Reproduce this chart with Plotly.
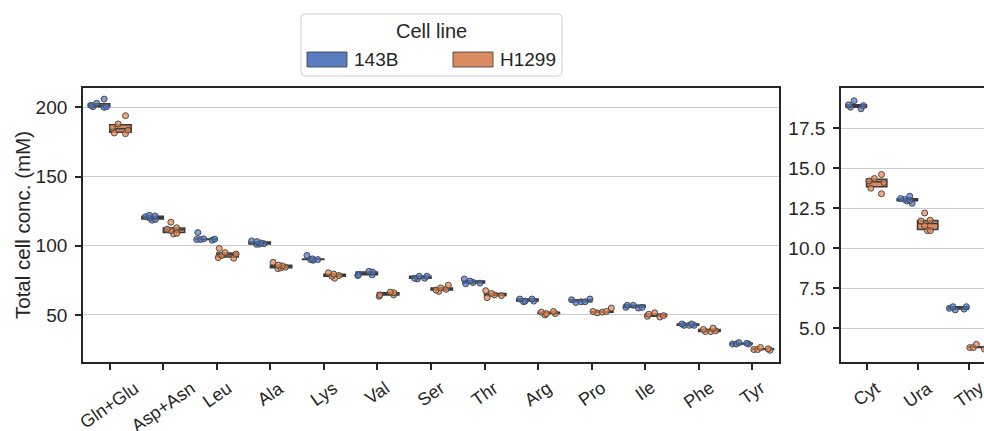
import numpy as np
import plotly.graph_objects as go

# ---------------- data ----------------
aa_names = ['Gln+Glu', 'Asp+Asn', 'Leu', 'Ala', 'Lys', 'Val', 'Ser', 'Thr',
            'Arg', 'Pro', 'Ile', 'Phe', 'Tyr']
aa_143B = [
    [206, 203, 200.5, 200, 200.5, 201.5],
    [122, 121.5, 119, 118.5, 120, 121],
    [109.5, 104.5, 104, 104.5, 105, 104.8],
    [103, 101.5, 101, 101.2, 102, 103.5],
    [93, 90, 89.5, 90, 90.5],
    [81, 79, 78.5, 79, 81.5],
    [78, 76.5, 76, 76.5, 78],
    [76, 74.5, 72.5, 73, 73.5],
    [61.5, 60, 59.5, 60, 61.5],
    [61, 59.5, 59, 59.5, 61.5],
    [57, 55.5, 55, 55.5, 57],
    [43.5, 42.5, 42.5, 42.5, 43.5],
    [30, 29, 29, 29, 29.5],
]
aa_H1299 = [
    [194, 188, 185.5, 183.5, 181, 181.5],
    [117, 113, 111, 109, 108.5, 112],
    [98, 95, 93, 91.5, 91, 94],
    [88, 85.5, 84, 83.5, 84.5, 86],
    [80.5, 78.5, 76.5, 78, 79.5],
    [66.5, 64.5, 63.5, 64.5, 66],
    [71.5, 68.5, 67, 68, 69.5],
    [67.5, 64.5, 62.5, 64, 65.5],
    [52.5, 51, 50, 51, 52],
    [55, 52.5, 51.5, 52, 52.5],
    [51.5, 49.5, 48.5, 49, 50.5],
    [40.5, 38, 38, 38.5, 39.5],
    [26.5, 25, 24.5, 25, 25.5],
]
nb_names = ['Cyt', 'Ura', 'Thy']
nb_143B = [
    [19.2, 18.8, 18.7, 18.9, 18.95],
    [13.25, 13.1, 12.95, 12.8, 13.0, 13.05],
    [6.35, 6.2, 6.15, 6.25, 6.35],
]
nb_H1299 = [
    [14.6, 14.35, 14.2, 13.75, 13.4, 14.1],
    [12.2, 11.7, 11.75, 11.1, 11.1, 11.4],
    [4.0, 3.8, 3.7, 3.8, 3.85],
]
cell_lines = ['143B', 'H1299']
aa_ticks = [50, 100, 150, 200]
nb_ticks = [5.0, 7.5, 10.0, 12.5, 15.0, 17.5]
y_title = 'Total cell conc. (mM)'
legend_title = 'Cell line'

# ---------------- style ----------------
box_fill = ['#597DBF', '#DA8B5F']
point_fill = ['rgba(72,120,208,0.72)', 'rgba(238,133,74,0.72)']
edge = '#3a3a3a'
axcol = '#262626'
FONT = 'Arial, Liberation Sans, sans-serif'
W, H = 984, 431
ML, MR, MT, MB = 83, 0, 88, 69
PW, PH = W - ML - MR, H - MT - MB


def px2x(px):
    return (px - ML) / PW


def px2y(py):
    return (H - MB - py) / PH


fig = go.Figure()


def add_group(names, groups, idx, xa, ya):
    q1 = [float(np.percentile(g, 25)) for g in groups]
    med = [float(np.percentile(g, 50)) for g in groups]
    q3 = [float(np.percentile(g, 75)) for g in groups]
    fig.add_trace(go.Box(
        x=names, y=groups, q1=q1, median=med, q3=q3,
        lowerfence=q1, upperfence=q3,
        xaxis=xa, yaxis=ya, name=cell_lines[idx],
        offsetgroup=cell_lines[idx], legendgroup=cell_lines[idx],
        fillcolor=box_fill[idx], line=dict(color=edge, width=1.5),
        boxpoints='all', jitter=0.9, pointpos=0, whiskerwidth=0,
        marker=dict(color=point_fill[idx], size=6,
                    line=dict(color='#4a4a4a', width=1)),
        showlegend=False))


for i, grp in enumerate([aa_143B, aa_H1299]):
    add_group(aa_names, grp, i, 'x', 'y')
for i, grp in enumerate([nb_143B, nb_H1299]):
    add_group(nb_names, grp, i, 'x2', 'y2')

common_axis = dict(showline=True, linecolor=axcol, linewidth=1.8,
                   ticks='outside', ticklen=6, tickwidth=1.5, tickcolor=axcol,
                   zeroline=False,
                   tickfont=dict(family=FONT, size=19, color=axcol))

fig.update_layout(
    width=W, height=H,
    margin=dict(l=ML, r=MR, t=MT, b=MB),
    paper_bgcolor='white', plot_bgcolor='white',
    boxmode='group', boxgap=0.2, boxgroupgap=0.0,
    font=dict(family=FONT, size=19, color=axcol),
    xaxis=dict(domain=[0, px2x(779)], anchor='y', type='category',
               categoryorder='array', categoryarray=aa_names,
               range=[-0.5, len(aa_names) - 0.5], mirror=True,
               showgrid=False, showticklabels=False, **common_axis),
    yaxis=dict(domain=[0, 1], anchor='x', range=[16, 214],
               tickvals=aa_ticks, mirror=True, showgrid=True,
               gridcolor='#cccccc', gridwidth=1.2, ticklabelstandoff=4,
               **common_axis),
    xaxis2=dict(domain=[px2x(841), 1], anchor='y2', type='category',
                categoryorder='array', categoryarray=nb_names,
                range=[-0.5, -0.5 + (W - 841) / 51.0], mirror=True,
                showgrid=False, showticklabels=False, **common_axis),
    yaxis2=dict(domain=[0, 1], anchor='x2', range=[2.9, 20.0],
                tickvals=nb_ticks, tickformat='.1f', mirror=False,
                showgrid=True, gridcolor='#cccccc', gridwidth=1.2,
                ticklabelstandoff=4, **common_axis),
)

# y-axis title
fig.add_annotation(x=px2x(22), y=0.5, xref='paper', yref='paper',
                   text=y_title, textangle=-90, showarrow=False,
                   xanchor='center', yanchor='middle',
                   font=dict(family=FONT, size=20.5, color=axcol))

# rotated category labels (centred under ticks, like the reference)
for xa, names in [('x', aa_names), ('x2', nb_names)]:
    for n in names:
        fig.add_annotation(x=n, xref=xa, y=px2y(375), yref='paper',
                           text=n, textangle=-35, showarrow=False,
                           xanchor='center', yanchor='top',
                           font=dict(family=FONT, size=18, color=axcol))

# legend drawn as a framed box with patches
lx0, lx1, ly0, ly1 = 301, 562, 14, 76
r = 4
x0, x1, y0, y1 = px2x(lx0), px2x(lx1), px2y(ly1), px2y(ly0)
rx, ry = r / PW, r / PH
path = (f"M {x0+rx},{y0} L {x1-rx},{y0} Q {x1},{y0} {x1},{y0+ry} "
        f"L {x1},{y1-ry} Q {x1},{y1} {x1-rx},{y1} L {x0+rx},{y1} "
        f"Q {x0},{y1} {x0},{y1-ry} L {x0},{y0+ry} Q {x0},{y0} {x0+rx},{y0} Z")
fig.add_shape(type='path', path=path, xref='paper', yref='paper',
              line=dict(color='#d0d0d0', width=1), fillcolor='white')
fig.add_annotation(x=px2x(431), y=px2y(31), xref='paper', yref='paper',
                   text=legend_title, showarrow=False, xanchor='center',
                   yanchor='middle', font=dict(family=FONT, size=20, color=axcol))
for i, (px0, tx) in enumerate([(307, 352), (453, 498)]):
    fig.add_shape(type='rect', xref='paper', yref='paper',
                  x0=px2x(px0), x1=px2x(px0 + 40), y0=px2y(67), y1=px2y(52),
                  fillcolor=box_fill[i], line=dict(color=edge, width=0.8))
    fig.add_annotation(x=px2x(tx), y=px2y(59.5), xref='paper', yref='paper',
                       text=cell_lines[i], showarrow=False, xanchor='left',
                       yanchor='middle',
                       font=dict(family=FONT, size=19, color=axcol))

fig.write_html('out.html')
